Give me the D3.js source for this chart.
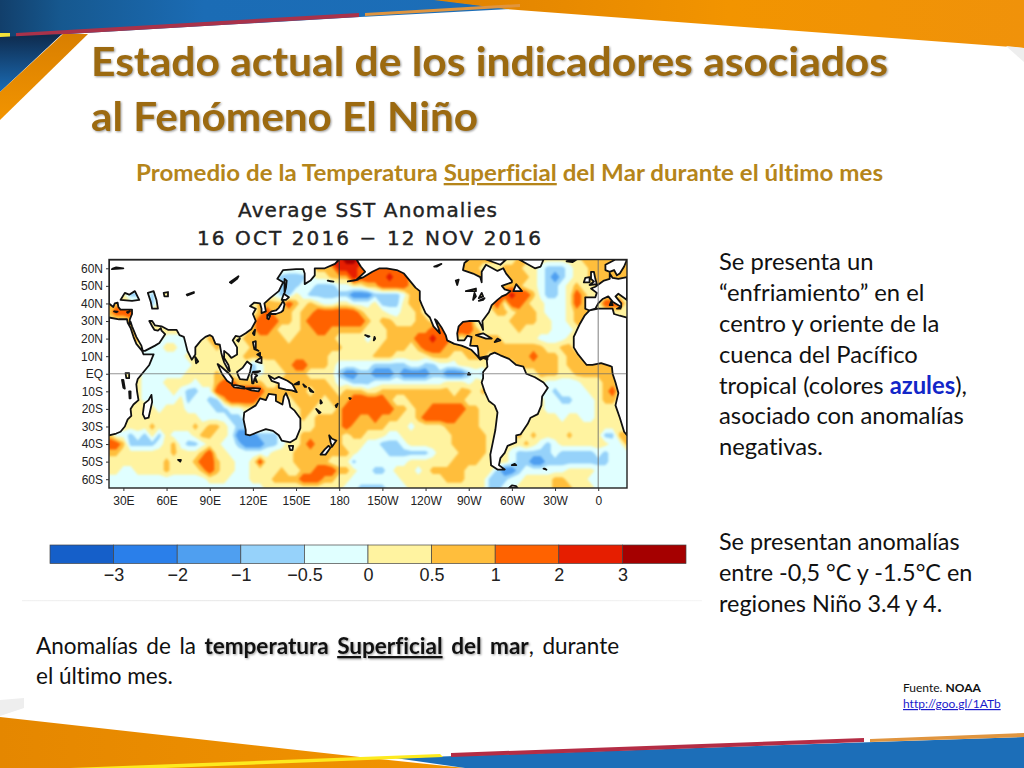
<!DOCTYPE html>
<html>
<head>
<meta charset="utf-8">
<script src="https://cdn.jsdelivr.net/npm/d3@7"></script>
<style>
  html, body { margin: 0; padding: 0; background: #fff; }
  svg { display: block; }
  text { font-variant-ligatures: none; }
</style>
</head>
<body>
<div id="slide"></div>
<script>
// anomaly bands of the colour bar
const bandEdges = [-3, -2, -1, -0.5, 0, 0.5, 1, 2, 3];
const bandColors = ["#155fc9", "#2a7fea", "#4f9ff0", "#96d2fa", "#e0ffff", "#fff3a0", "#ffbe3c", "#ff6200", "#e61e00", "#a50000"];
const legendLabels = ["\u22123", "\u22122", "\u22121", "\u22120.5", "0", "0.5", "1", "2", "3"];

// axis ticks of the map
const lonTicks = [30, 60, 90, 120, 150, 180, 210, 240, 270, 300, 330, 360];
const lonLabels = ["30E", "60E", "90E", "120E", "150E", "180", "150W", "120W", "90W", "60W", "30W", "0"];
const latTicks = [60, 50, 40, 30, 20, 10, 0, -10, -20, -30, -40, -50, -60];
const latLabels = ["60N", "50N", "40N", "30N", "20N", "10N", "EQ", "10S", "20S", "30S", "40S", "50S", "60S"];

// SST anomaly: one row per 5 deg of latitude (65N to 65S), one value per 5 deg of longitude (20E eastward to 380)
const sstLats = [65, 60, 55, 50, 45, 40, 35, 30, 25, 20, 15, 10, 5, 0, -5, -10, -15, -20, -25, -30, -35, -40, -45, -50, -55, -60, -65];
const sstRows = [
[.2,.2,.2,.2,.2,.2,.2,.2,.2,.2, .2,.2,.2,.2,.2,.2,.2,.2,.2,.2, .2,.2,.2,.2,.2,.2,.2,.2,.7,.7, .7,2.5,2.5,3.5,3.5,2.5,1.5,1.5,1.5,1.5, .7,.7,.7,.7,.7,.7,.7,.7,.7,.7, .7,.7,.7,.7,.7,.2,.2,.7,.7,.7, .2,.2,.2,.2,.2,.2,.7,.7,.7,.7, .7,.7,.7],
[.2,.2,.2,.2,.2,.2,.2,.2,.2,.2, .2,.2,.2,.2,.2,.2,.2,.2,.2,.2, .2,.2,.2,.2,.2,-.2,-.2,.2,.2,.7, .7,.7,2.5,2.5,2.5,1.5,1.5,1.5,1.5,1.5, 1.5,.7,.7,.7,.7,.7,.7,.7,.7,.7, .7,.7,.2,.2,.2,.7,.7,.7,.2,.2, -.2,-.7,-.7,-.7,-.2,.2,.2,.7,.7,.7, .7,.7,.7],
[.2,.2,.2,.2,.2,.2,.2,.2,.2,.2, .2,.2,.2,.2,.2,.2,.2,.2,.2,.2, .2,.2,.2,-.2,-.7,-.7,-.7,-.7,-.2,.2, .2,.7,.7,.7,2.5,1.5,1.5,1.5,1.5,2.5, 1.5,1.5,.7,.7,.7,.7,.7,.7,.7,.7, .7,.7,.7,.7,.7,.7,.7,.7,.7,.2, -.2,-.7,-1.5,-.7,-.2,.2,.2,.7,.7,.7, .7,.7,.7],
[.2,.2,.2,.2,.2,.2,.2,.2,.2,.2, .2,.2,.2,.2,.2,.2,.2,.2,.2,.2, .2,.2,.2,.2,-.7,-.7,-.7,-.2,-.2,-.7, -.7,-.7,-.2,-.2,.2,.2,.7,.7,1.5,1.5, 1.5,1.5,.7,.7,.7,.7,.7,.7,.7,.7, .7,.7,.7,.7,.7,.7,.7,.7,.2,.2, -.2,-.7,-.7,-.2,.2,.7,.2,.2,.7,.2, .2,.2,.2],
[.2,.2,.2,-.7,-.7,.2,-.7,.2,.2,.2, .2,.2,.2,.2,.2,.2,.2,.2,.2,.2, .2,.2,.2,-.2,-.7,-.7,.2,-.2,-.7,-.7, -.7,-.7,-.7,-.7,-1.5,-1.5,-1.5,-.7,-.7,-.7, -.7,-.2,.7,.7,.2,.2,.2,.2,.2,.2, .2,.2,.2,.7,1.5,1.5,2.5,1.5,1.5,.7, -.2,-.7,-.7,-.2,.2,1.5,.7,.2,.2,.2, .2,.2,.2],
[.7,.7,.7,.2,.2,.2,-.7,.2,.2,.2, .2,.2,.2,.2,.2,.2,.2,.2,.2,.2, .2,.7,.7,.7,.7,1.5,.7,.2,.7,.2, -.2,-.2,.2,.2,-.2,-.2,-.2,.2,-.7,-.7, -.7,.2,.7,.7,.2,.2,.2,.2,.2,.2, .2,.2,.2,.7,1.5,.2,1.5,1.5,.7,.2, .2,-.2,-.2,-.2,.2,1.5,.7,.2,.2,1.5, 1.5,1.5,.2],
[.7,1.5,1.5,1.5,.2,.2,.2,.2,.2,.2, .2,.2,.2,.2,.2,.2,.2,.2,.2,.2, .2,.7,1.5,.7,.7,.7,.2,.7,.7,1.5, 1.5,1.5,1.5,1.5,1.5,.7,.2,.2,.2,-.2, -.2,.2,.2,.7,.2,.2,.2,.2,.2,.2, .2,.2,.2,.2,.7,.7,.2,.7,.7,.7, .2,-.2,-.2,-.2,.2,.7,.7,.7,.2,.2, .2,.2,.2],
[.2,.2,.2,.7,.2,.2,.2,.2,.2,.2, .2,.2,.2,.2,.2,.2,.2,.2,.2,.2, .7,1.5,1.5,1.5,.7,.7,.2,.7,1.5,1.5, 1.5,1.5,1.5,1.5,1.5,1.5,.7,.2,.7,.7, .2,.2,.2,.7,.7,.2,.2,.2,1.5,1.5, 1.5,.2,.2,.2,.2,.2,.7,.7,.7,.7, .2,.2,-.2,-.2,.2,.7,.7,.2,.2,.2, .2,.2,.2],
[.2,.2,.2,.7,.2,.7,.2,.2,.2,.2, .2,.2,.2,.2,.2,.2,.2,.2,.2,.2, .7,1.5,1.5,.7,.2,.2,.2,.7,.7,1.5, 1.5,.7,.7,.7,.7,.7,.2,.2,.2,.7, .7,.7,.7,.7,.7,1.5,1.5,.7,1.5,1.5, 1.5,.7,.2,.2,.2,.2,.2,.7,.2,.2, .2,.2,-.2,-.2,-.2,.2,.7,.2,.2,.2, .2,.2,.2],
[.2,.2,.2,.7,.7,.2,.2,.2,-.2,-.2, -.2,-.2,.2,.2,.7,.7,.2,.2,.2,.7, .7,.7,.7,.7,.7,.2,.7,.7,.7,.7, .7,.7,.2,.2,.2,.2,-.2,.2,.2,.7, .7,.7,.7,1.5,1.5,2.5,1.5,1.5,.7,.2, .7,.7,.7,.7,.7,.2,.2,.2,.2,.2, -.2,-.2,-.2,-.2,.2,.7,.2,.2,.2,.2, .2,.2,.2],
[.2,.2,.2,.2,.2,-.2,-.2,-.2,.2,.2, -.2,-.2,.2,.2,.2,.7,.2,.2,.2,.2, .7,.7,.7,.7,.7,.7,.7,.7,.7,.7, .7,.7,.7,.2,.2,.2,.2,.2,.7,.7, .7,.7,.2,.7,1.5,1.5,1.5,.7,.7,.7, .7,.7,.7,.7,.7,.7,.7,.7,.7,.7, .7,.2,.2,.7,.7,.2,.2,.2,.2,.2, .2,.2,.2],
[.2,.2,.2,.2,.2,-.2,-.2,-.2,-.2,-.2, -.2,.2,.2,.2,.2,.2,.2,.2,.2,.7, .7,.7,.7,.7,.7,.7,.7,.7,.7,.7, .7,.2,.2,.2,.2,.2,.2,.7,.7,.7, .2,.2,.2,.2,.2,.7,.7,.7,.2,.2, .7,.7,.7,.2,.7,.7,.7,.7,.7,1.5, .7,.7,.7,.2,.7,.7,.2,.2,.2,.2, .2,.2,.2],
[.2,.2,.2,.2,.2,-.2,-.2,-.2,-.2,-.2, -.2,-.2,.2,.2,.2,.2,.2,.2,.2,.2, -.7,-.2,.2,.2,.7,.7,1.5,1.5,.7,.7, .7,.2,-.2,-.2,-.2,-.2,-.2,-.7,-.7,-.7, -.7,-.7,-.2,-.2,-.7,-.7,-.2,-.2,-.2,.2, .2,.2,.2,.2,.2,.2,.2,.7,.7,.7, .7,.7,.7,.2,.7,.7,.7,.7,.7,.7, .7,.7,.2],
[.2,.2,.2,.2,.2,-.2,-.2,-.2,-.2,-.2, -.2,.2,.2,.2,.2,.7,.2,.2,.2,.2, -.7,-.2,.2,.2,.2,.7,.7,.7,.2,.2, .2,.2,-.7,-1.5,-1.5,-.7,-.7,-1.5,-1.5,-1.5, -.7,-1.5,-1.5,-1.5,-1.5,-.7,-.7,-1.5,-1.5,-1.5, -.7,-.2,-.7,.2,.2,.2,.2,.2,.2,.2, .7,.7,.7,.2,.2,.7,.7,.7,.7,.7, .7,.7,.2],
[.2,.2,.2,.2,.2,-.2,-.2,-.2,.2,.2, .2,.2,-.2,.2,.2,.7,1.5,1.5,.7,.7, .7,.7,.2,.2,.7,.7,.7,.7,.7,.7, .7,.2,-.2,-.2,-.7,-.7,-.7,-.2,-.2,-.2, -.2,-.2,-.2,-.2,-.2,-.2,-.2,.2,.2,.2, -.2,.2,.2,.2,.2,.2,.2,.2,.2,.2, .2,-.2,-.2,-.2,-.2,-.2,.2,.2,.2,.7, .7,.2,.2],
[.2,.2,.2,.2,.2,-.2,-.2,-.2,-.2,.2, -.2,-.7,-.7,-.2,-.2,1.5,1.5,1.5,1.5,1.5, 1.5,1.5,.7,.7,.7,.7,.7,.7,.2,.7, .7,.7,.2,.7,.7,.7,.2,.2,.7,.7, .7,.7,.7,.7,.7,.7,.7,.7,.2,.7, .7,.2,.7,.2,.2,.2,.2,.2,.2,.2, -.2,-.2,-.7,-.2,-.2,-.2,-.2,.2,.2,.7, 1.5,.2,.2],
[.2,.2,.2,.2,.2,-.2,-.2,-.2,-.2,-.2, .2,-.7,-.2,-.2,-.7,-.7,.7,1.5,1.5,1.5, 1.5,.7,.7,.7,.7,.2,.7,.7,.7,.7, .2,.7,.7,.7,1.5,1.5,1.5,1.5,1.5,.7, .2,.2,.7,.7,.7,.7,.7,.7,.7,.7, .2,.2,.2,.2,.2,.2,.2,.2,.2,.2, .2,-.2,-.2,-.7,-.7,-.2,-.2,-.2,.2,.7, .7,.2,.2],
[.2,.2,.2,.2,.2,.7,.2,-.2,.2,.2, .2,-.2,-.2,-.2,-.2,-.7,-.7,-.2,-.2,.2, .2,.2,.2,.2,.2,.2,.2,.7,.7,.2, .2,.2,.7,1.5,1.5,1.5,1.5,1.5,1.5,1.5, .7,.7,.2,.7,.7,1.5,1.5,1.5,1.5,1.5, .7,.7,.2,.2,.2,.2,.2,.2,.2,.2, .2,-.2,-.2,-.2,-.2,-.2,-.2,-.2,.2,.2, .2,.2,.2],
[.2,.2,.2,.2,.2,.2,.2,.2,.2,.2, .2,.2,.2,-.2,-.2,-.2,-.2,-.7,-.7,-.2, .2,.2,.2,.2,.2,.2,.2,.7,.2,.7, .7,.7,.7,1.5,1.5,.7,.7,1.5,.7,.7, .7,.2,.2,.7,1.5,1.5,1.5,1.5,1.5,.7, .7,.7,.2,.2,.2,.2,.2,.2,.2,.2, .2,.2,.2,-.2,.2,.2,-.2,-.2,.2,.2, .2,.2,.2],
[.2,.2,.2,.2,.2,.2,.7,.2,.2,.2, .2,.2,.7,.2,.7,.7,.2,-.2,-.7,-.7, .2,.2,.2,.2,.2,.2,.2,.2,.2,.7, .7,.7,.7,1.5,.7,.7,.7,.7,.7,.2, .2,.2,-.2,.2,.2,.2,.2,.7,.7,.7, .7,.7,.2,.2,.2,.2,.2,.2,.2,.2, .2,.2,.2,.2,.2,.2,.2,.2,.2,.2, .2,.2,.2],
[.7,-.2,-.2,-.7,-.2,-.7,.2,-.7,.2,-.2, -.2,-.2,.2,.7,.7,.2,.2,-.2,-1.5,-1.5, -1.5,-.7,-.7,-.7,-.2,.2,.2,.7,.7,.7, .7,.7,.7,.2,.7,.7,.2,.2,.2,-.2, -.2,.2,.2,.2,.2,.2,.2,.2,.7,.7, .7,.7,.7,.2,.2,.2,.2,.7,.2,.7, .2,.2,.2,.2,.7,.2,.2,.2,.2,-.7, -.7,.7,.7],
[1.5,1.5,.7,-.7,-.7,-.7,-.7,-.2,.2,.7, -.2,-.7,-.7,-.2,.2,.2,-.2,-.2,-.7,-1.5, -1.5,-1.5,-.7,-.7,-.2,.2,.2,.7,1.5,.7, .7,.7,.7,.2,.2,.2,-.2,-.2,-.7,-.7, -.7,-.2,.2,.2,.2,.2,.2,.2,.7,.7, .7,.7,.7,.2,.2,.2,.2,.2,.7,.2, -.2,-.7,-.2,.2,.2,.2,.2,.2,.2,.2, -.2,-.2,.7],
[.7,.7,.2,.2,.2,.2,.2,.2,.2,.7, .2,.2,.2,.7,1.5,.2,.2,-.2,-.2,-.2, -.2,-.2,-.2,.2,.2,.2,.7,.7,.7,.7, .7,.7,.7,.7,.2,-.2,-.2,-.2,-.2,-.7, -.7,-.7,-.7,-.7,-.7,-.2,.2,.2,.2,.7, .7,.7,.7,.2,.2,.2,-.2,-.7,-.7,-.7, -.7,-.7,-.2,-.7,-.7,-.7,-.7,-.7,-.2,-.7, -.2,-.2,-.2],
[.2,.2,.2,.2,.2,.2,.2,.2,.7,.2, .2,.2,.7,1.5,1.5,.7,.2,.2,-.2,-.2, .2,1.5,.2,.2,.2,.2,.7,.7,.7,.7, .7,.2,.2,.2,-.7,-.2,-.2,-.2,-.2,-.2, -.2,-.2,.2,.2,.2,.2,.2,.2,.7,.7, .7,.7,.2,.2,.2,.2,-.2,-.7,-.7,-1.5, -1.5,-.7,-.7,-.7,-.7,-.7,-.7,-.7,-.7,-.7, -.2,-.2,-.2],
[.2,.2,-.2,-.2,.2,.2,.2,.2,.7,.2, .2,.2,.2,.7,1.5,.7,.2,.2,-.2,-.2, .2,.2,.2,.2,.7,.2,.2,.7,.7,1.5, 1.5,1.5,.7,.7,.2,-.2,-.2,-.7,-.7,-.2, .2,.2,.2,-.2,.2,.7,.7,.7,.7,.7, .2,.2,.2,.2,-.7,-1.5,-1.5,-.7,-.2,-.2, -.2,-.2,-.2,-.2,.2,.2,.2,.2,-.2,-.2, -.2,-.2,-.2],
[-.2,-.2,-.2,-.2,-.2,-.2,-.2,-.2,-.2,-.2, -.2,-.2,-.2,-.2,.2,.2,.2,-.2,-.2,-.2, .2,.2,.2,.7,.7,.7,.7,1.5,1.5,1.5, .7,.7,.2,.2,-.2,-.2,-.2,-.2,-.2,-.2, -.2,.2,.2,.2,.2,.2,.2,.7,.7,.7, .2,.2,.2,-.7,-.7,-.7,-.2,-.2,.2,.2, .2,.2,.7,.7,.2,.2,.2,-.2,-.2,-.2, -.2,-.2,-.2],
[-.2,-.2,-.2,-.2,-.2,-.2,-.2,-.2,-.2,-.2, -.2,-.2,-.2,-.2,-.2,-.2,-.2,-.2,-.2,-.2, -.2,-.2,.2,.2,.2,.2,.2,.2,.2,.2, .2,.2,.2,-.2,-.2,-.7,-.7,-.7,-.7,-.2, -.2,-.2,.2,.2,.2,.2,.2,.2,.2,.2, .2,.2,.2,-.7,-.7,-.2,-.2,.2,.2,.2, .2,.2,.7,.7,.7,.2,.2,.2,-.2,-.2, -.2,-.2,-.2]
];

// coastlines, [lon, lat], longitudes run 20..380
const eurasia = [[20,65],[20,40],[23,38],[24,40],[26,40.5],[26.5,38],[28,36.5],[31,36.5],[36,36.5],[36,34],[35,32],[34.5,31],[34.3,28],[35,29.5],[36,27],[39,21],[42.5,16],[43.5,13],[45,13],[52,16],[55,17.5],[59,22.5],[56.5,24.5],[56,26],[54,24.5],[51.5,25],[50,27],[48,30],[50,30],[52,27.5],[56.5,27],[61,25],[67,25],[69,22],[72,21],[73,18],[74.5,13],[77.5,8],[80,11],[80,15],[84,19],[87,21],[90,22],[92,21],[94,17],[97,16.5],[98,12],[99,9],[100,6.5],[103,2],[104,1.5],[103,5],[100,9],[100,13],[103,11],[105,9],[109,11],[109,15],[106,19],[108,21.5],[111,21],[115,23],[119,25.5],[122,30],[120,34],[122,37],[118,38.5],[121,40.5],[125,40],[126,37],[126,34.5],[129,35.5],[128,40],[132,43],[138,47],[141,52],[137,54],[141,59],[150,59.5],[155,59.5],[156,57],[156,51],[160,53],[163,56],[163,60],[170,60],[177,62.5],[180,65]];
const africaEast = [[20,-35],[25,-34],[28,-33],[31,-30],[33,-26],[35.5,-24],[35,-20],[37,-17.5],[40.5,-15],[39.5,-10],[39,-6],[40,-3],[43,0],[48,5],[51,11],[44,11],[43,13],[39,17],[37,21],[35,26],[33,29],[32.5,31],[27,31],[20,32]];
const africaWest = [[380,32],[375,33],[371,34],[370,37],[360,37],[354,36],[350.5,33],[347,28],[343,21],[343,15],[346,11],[350,7],[352,5],[356,5],[362,6],[368,4.5],[369.5,4],[370,0],[372,-5],[374,-11],[372,-18],[375,-25],[378,-33],[380,-35]];
const europe = [[380,55],[374,54],[370,54.5],[368,57],[368,54],[364,53],[358,49.5],[355,48.5],[359,46],[358,43.5],[351,43.5],[351,37],[354,36],[358,37],[360,40],[363,42.5],[367,44],[370,41],[376,38],[376,40],[372,44],[374,45.5],[380,42]];
const scandinavia = [[372,65],[365,62],[365,59],[368,58],[371,59],[373,56],[375,57],[378,61],[380,65]];
const northAmerica = [[192,65],[195,61],[198,58],[192,53.5],[197,55],[203,58],[208,60],[213,60],[220,59],[225,57],[229,53],[233,49],[236,47],[236,42],[237.5,39],[240,34.5],[243,32],[245.5,27],[250,23],[249,26],[246.5,31],[248,30],[251,26.5],[254,22],[255,19],[260,17],[265,16],[268,15],[272,13.5],[276,10],[278,8],[280,9],[283,8],[283,10],[277,9],[276.5,14],[276,15.8],[271,16],[272,21],[269,21.5],[267,19],[262.5,19],[262,23],[263,27],[266,29.5],[270,30],[277,30],[279,27],[280,25],[279.5,30],[284,35],[286,39],[290,42],[293,44],[296,45],[299,47],[295,48],[293,50],[300,52],[300,53],[296,57],[294,60],[290,58.5],[282,62],[279,58],[279,52],[278,55],[273,57],[266,59],[267,63],[270,65]];
const southAmerica = [[282,8.5],[285,11],[288,12],[292,10.5],[298,8.5],[303,5],[308,4],[310,0],[316,-2],[322,-5],[325,-8],[321,-13],[320.5,-18],[318,-23],[313,-25],[311,-28.5],[306,-34.5],[303,-35],[303,-39],[297,-41],[295,-45],[292,-48],[291,-52],[295,-54.5],[290,-54.5],[285.5,-52],[285,-46],[286.5,-40],[288.5,-32],[290,-22],[288,-18],[284,-15.5],[281,-10],[279,-5],[280,-2.5],[280,1],[283,4],[282.5,8]];
const australia = [[114,-22],[113.5,-26],[115,-32],[115,-34.5],[118,-35],[124,-33],[129,-31.5],[134,-32.5],[138,-35],[140,-38],[146,-39],[150,-37],[153,-31],[153,-25.5],[149,-21],[146,-19],[145,-15],[143,-11],[141.5,-13],[140.5,-17.5],[136,-15.5],[136,-12],[131,-11.5],[129,-15],[125,-14],[122,-18],[117,-20.5]];
const islands = [
  [[145,-41],[148,-41],[147.5,-43.5],[146,-43.5]],
  [[173,-35],[175,-37],[178,-38],[175,-41.5],[174,-39]],
  [[172.5,-41],[174,-42],[170.5,-46],[167,-46],[170,-43]],
  [[49.5,-12],[50,-16],[47.5,-25],[45,-25.5],[43.5,-23],[44.5,-17],[47.5,-15]],
  [[80,9.5],[82,7],[80.5,6]],
  [[131,34],[133,35.5],[136,36],[138,37.5],[140,40],[141,41.5],[142,39.5],[141,36],[139.5,35],[136,34],[133,34]],
  [[130,33.5],[132,33],[131,31],[130,31.5]],
  [[140,42],[141.5,45.5],[145,43.5],[143,42]],
  [[142,46],[142,54],[143.5,53],[143,49]],
  [[120,23],[121.5,25],[121,22]],
  [[109,19],[111,20],[110,18.3]],
  [[120,18],[122,18.5],[122,14],[124,13],[121,14]],
  [[122,7],[126,9.5],[126,6],[124,6.5]],
  [[123,11],[125,12],[125,10]],
  [[109,1],[113,3.5],[116,7],[119,5],[118,1],[116,-3.5],[111,-3],[109.5,-0.5]],
  [[95.5,5.5],[98,4],[103.5,0],[106,-3],[105.5,-6],[102,-4],[98.5,0]],
  [[105.5,-6.5],[108,-6.5],[114,-7.5],[114,-8.5],[107,-7.8]],
  [[115,-8.3],[120,-8.2],[125,-8.5],[124,-10],[119,-9.5]],
  [[119.5,-5.5],[119,-1],[120,1],[125,1.5],[121,0],[123,-1],[121.5,-2],[122.8,-4.8],[121,-3],[120.4,-5.5]],
  [[131,-1],[135,-3],[138,-1.8],[144,-4],[147.5,-6],[150.5,-10.5],[147,-9.5],[143,-9],[138,-8],[138,-5.5],[133,-4]],
  [[149,-6],[152,-4.5],[152,-6]],
  [[155,-6],[157,-7.5],[156,-7.5]],
  [[159,-8],[162,-10.5],[160,-10]],
  [[167,-15],[168,-16.5],[167,-17]],
  [[164,-20],[167,-22],[166,-22.5]],
  [[177.5,-18],[179,-17],[178,-19]],
  [[187,-13.8],[188,-14],[187.5,-14.4]],
  [[204,19],[205,20],[204.5,21]],
  [[198,22],[200,21],[201,21.3]],
  [[186,52.5],[190,53],[193,53.5]],
  [[172,53],[174,52.6],[176,52.4]],
  [[270,.5],[271,-.5],[269.5,-.5]],
  [[275,22],[280,23],[286,20],[282,20]],
  [[288,18],[290,20],[292,19]],
  [[301,47],[307,47],[303,51]],
  [[282,65],[292,62],[296,65]],
  [[305,65],[316,60],[320,61],[322,65]],
  [[338,64],[342,63.5],[345,65]],
  [[354,50.5],[359,51],[358,54],[357,58],[355,58],[355,54],[357,52.5]],
  [[350,52],[354,52],[354,55],[351,54.5]],
  [[368,39],[370,39],[369,41]],
  [[373,37],[375.5,37],[375.5,38]],
  [[32.5,35],[34.5,35.5],[33,34.6]],
  [[23.5,35.5],[26,35.3],[25,35]],
  [[300,-52],[302,-51.3],[303,-52]],
  [[322,-54],[323,-54],[324,-54.6]],
  [[298,-65],[300,-63.5],[303,-64],[304,-65]],
  [[68,-49],[70,-49],[69.5,-50]]
];
// inland water: left open so the anomaly colours show through
const inlandSeas = [
  [[28,42],[31,46],[34,45],[38,47],[41,42],[36,41.5]],
  [[47,46],[51,47],[53,42],[54,37],[50,37],[49,41]],
  [[58,46],[61,46.5],[61,44],[58.5,44]],
  [[74,45],[79,46.5],[79,46],[74.5,44.5]],
  [[104,52],[110,55.5],[109,54],[105,51.5]],
  [[22,59.5],[30,60],[25,60.5],[23,60]],
  [[31.5,0.3],[34,0.3],[34,-2.5],[32,-2.5]],
  [[29,-3.5],[30,-3.5],[31,-8.5],[30,-8]],
  [[34,-10],[35,-10],[35,-14],[34.3,-14]],
  [[246,61],[251,62.5],[248,61]],
  [[262,50.5],[263,53.5],[261,53]],
  [[268,47],[275,48.5],[275,47]],
  [[273,42],[274,46],[275,44]],
  [[277,43],[279,46],[280,44]],
  [[277,41.5],[281,43],[280,42]]
];

const width = 1024, height = 768;

const svg = d3.select("#slide").append("svg")
  .attr("width", width)
  .attr("height", height);

const defs = svg.append("defs");

function gradient(id, x2, y2, stops) {
  const g = defs.append("linearGradient").attr("id", id)
    .attr("x1", 0).attr("y1", 0).attr("x2", x2).attr("y2", y2);
  stops.forEach(s => g.append("stop").attr("offset", s[0]).attr("stop-color", s[1]));
}
gradient("blueTop", 1, 0, [[0, "#123f6b"], [0.12, "#16588f"], [0.4, "#1b6cb5"], [1, "#1c6eb8"]]);
gradient("orangeTop", 1, 0, [[0, "#e08200"], [0.5, "#f29400"], [1, "#f0920a"]]);
gradient("orangeBottom", 1, 0, [[0, "#e58700"], [1, "#f29400"]]);
gradient("darkCorner", 0, 1, [[0, "#0e2a4c"], [1, "#1b6cb5"]]);
gradient("orangeSlant", 0, 1, [[0, "#d97f00"], [1, "#f29400"]]);

function blurFilter(id, dev) {
  defs.append("filter").attr("id", id)
    .attr("color-interpolation-filters", "sRGB")
    .append("feGaussianBlur").attr("stdDeviation", dev);
}
blurFilter("fieldBlur", 0.9);
blurFilter("coastBlur", 0.3);

// slide decoration
function poly(points, fill) {
  svg.append("polygon")
    .attr("points", points.map(p => p.join(",")).join(" "))
    .attr("fill", fill);
}
poly([[0, 0], [440, 0], [510, 9], [360, 17], [16, 37], [0, 37]], "url(#blueTop)");
poly([[434, 0], [1024, 0], [1024, 48], [506, 9]], "url(#orangeTop)");
poly([[16, 33], [359, 13], [359, 17], [16, 37]], "#a9324a");
poly([[365, 13], [520, 4], [520, 7], [365, 16]], "#e0953f");
poly([[0, 33], [10, 33], [10, 37], [0, 37]], "#f3e23a");
poly([[0, 37], [62, 34], [0, 92]], "url(#darkCorner)");
poly([[63, 34], [88, 34], [0, 120], [0, 92]], "url(#orangeSlant)");
poly([[1006, 46], [1024, 48], [1024, 62]], "#eeeeee");
poly([[0, 717], [360, 757], [465, 768], [0, 768]], "url(#orangeBottom)");
poly([[395, 758], [1024, 737], [1024, 768], [465, 768]], "#1c6eb8");
poly([[70, 768], [440, 754], [443, 757], [165, 768]], "#fdea1e");
poly([[451, 753], [864, 738], [864, 742], [451, 757]], "#b42d45");
poly([[870, 739], [1024, 733], [1024, 737], [870, 742]], "#e0953f");
poly([[0, 700], [24, 698], [24, 708], [0, 716]], "#eeeeee");

// map
const lonScale = d3.scaleLinear().domain([20, 380]).range([109, 627]);
const latScale = d3.scaleLinear().domain([65, -65]).range([259.5, 488]);
const colorScale = d3.scaleThreshold().domain(bandEdges).range(bandColors);

defs.append("clipPath").attr("id", "mapClip")
  .append("rect")
  .attr("x", lonScale(20)).attr("y", latScale(65))
  .attr("width", lonScale(380) - lonScale(20))
  .attr("height", latScale(-65) - latScale(65));

const mapBody = svg.append("g").attr("clip-path", "url(#mapClip)");

const gridW = sstRows[0].length, gridH = sstLats.length;
const contours = d3.contours()
  .size([gridW, gridH])
  .thresholds(bandEdges)(sstRows.flat());

const gridPath = d3.geoPath(d3.geoTransform({
  point(x, y) {
    this.stream.point(lonScale(20 + 5 * (x - 0.5)), latScale(65 - 5 * (y - 0.5)));
  }
}));

mapBody.append("g")
  .attr("filter", "url(#fieldBlur)")
  .selectAll("path")
  .data(contours)
  .join("path")
  .attr("d", gridPath)
  .attr("fill", d => colorScale(d.value));

const coastLine = d3.line().x(d => lonScale(d[0])).y(d => latScale(d[1]));
const landShapes = [eurasia, africaEast, africaWest, europe, scandinavia, northAmerica, southAmerica, australia, ...islands, ...inlandSeas];

mapBody.append("path")
  .attr("d", landShapes.map(s => coastLine(s) + "Z").join(""))
  .attr("fill", "#fff")
  .attr("fill-rule", "evenodd")
  .attr("stroke", "#111")
  .attr("stroke-width", 1.8)
  .attr("stroke-linejoin", "round")
  .attr("filter", "url(#coastBlur)");

// reference lines
mapBody.append("line")
  .attr("x1", lonScale(180)).attr("x2", lonScale(180))
  .attr("y1", latScale(65)).attr("y2", latScale(-65))
  .attr("stroke", "#333").attr("stroke-width", 1);
mapBody.append("line")
  .attr("x1", lonScale(360)).attr("x2", lonScale(360))
  .attr("y1", latScale(65)).attr("y2", latScale(-65))
  .attr("stroke", "#666").attr("stroke-opacity", 0.7).attr("stroke-width", 1.2);
mapBody.append("line")
  .attr("x1", lonScale(20)).attr("x2", lonScale(380))
  .attr("y1", latScale(0)).attr("y2", latScale(0))
  .attr("stroke", "#666").attr("stroke-opacity", 0.7).attr("stroke-width", 1.2);

svg.append("rect")
  .attr("x", lonScale(20)).attr("y", latScale(65))
  .attr("width", lonScale(380) - lonScale(20))
  .attr("height", latScale(-65) - latScale(65))
  .attr("fill", "none")
  .attr("stroke", "#222")
  .attr("stroke-width", 1.4);

const xAxis = svg.append("g")
  .attr("transform", `translate(0,${latScale(-65)})`)
  .call(d3.axisBottom(lonScale).tickValues(lonTicks)
    .tickFormat((d, i) => lonLabels[i]).tickSize(3).tickPadding(5));
const yAxis = svg.append("g")
  .attr("transform", `translate(${lonScale(20)},0)`)
  .call(d3.axisLeft(latScale).tickValues(latTicks)
    .tickFormat((d, i) => latLabels[i]).tickSize(3).tickPadding(3));
[xAxis, yAxis].forEach(a => {
  a.select(".domain").remove();
  a.selectAll("line").attr("stroke", "#333");
  a.selectAll("text")
    .attr("font-family", "'Liberation Sans', sans-serif")
    .attr("font-size", 12)
    .attr("fill", "#222");
});

// map heading
function mapHeading(text, x, y, len) {
  svg.append("text")
    .attr("x", x).attr("y", y)
    .attr("textLength", len)
    .attr("lengthAdjust", "spacing")
    .attr("font-family", "'DejaVu Sans', sans-serif")
    .attr("font-size", 20)
    .attr("fill", "#222")
    .attr("stroke", "#222")
    .attr("stroke-width", 0.4)
    .text(text);
}
mapHeading("Average SST Anomalies", 238, 217, 259);
mapHeading("16 OCT 2016 \u2212 12 NOV 2016", 197, 245, 344);

// colour bar
const legendScale = d3.scaleLinear().domain([0, bandColors.length]).range([50, 686]);
const legend = svg.append("g");
legend.selectAll("rect")
  .data(bandColors)
  .join("rect")
  .attr("x", (d, i) => legendScale(i))
  .attr("y", 545)
  .attr("width", legendScale(1) - legendScale(0))
  .attr("height", 18.5)
  .attr("fill", d => d)
  .attr("stroke", "#444")
  .attr("stroke-width", 0.7);

const legendAxis = svg.append("g")
  .attr("transform", "translate(0,563)")
  .call(d3.axisBottom(legendScale)
    .tickValues(d3.range(1, bandColors.length))
    .tickFormat((d, i) => legendLabels[i]).tickSize(0).tickPadding(5));
legendAxis.select(".domain").remove();
legendAxis.selectAll("text")
  .attr("font-family", "'Liberation Sans', sans-serif")
  .attr("font-size", 18)
  .attr("fill", "#222");

// divider under the colour bar
gradient("dividerFade", 1, 0, [[0, "#f2f2f2"], [0.5, "#e6e6e6"], [1, "#f6f6f6"]]);
svg.append("rect").attr("x", 22).attr("y", 600).attr("width", 680).attr("height", 1.2).attr("fill", "url(#dividerFade)");

// slide text
const slideFont = "Lato, 'Open Sans', sans-serif";
const shadow = "drop-shadow(1.5px 1.5px 1px rgba(0,0,0,0.4))";

function textLine(parts, x, y, size, fill) {
  const t = svg.append("text")
    .attr("x", x).attr("y", y)
    .attr("font-family", slideFont)
    .attr("font-size", size)
    .attr("font-weight", 400)
    .attr("fill", fill || "#111");
  parts.forEach(part => {
    const p = typeof part === "string" ? { text: part } : part;
    const s = t.append("tspan").text(p.text);
    if (p.bold) s.attr("font-weight", 700);
    if (p.under) s.attr("text-decoration", "underline");
    if (p.fill) s.attr("fill", p.fill);
    if (p.glow) s.style("filter", shadow);
  });
  return t;
}

const titleColor = "#9c6a10";
textLine([{ text: "Estado actual de los indicadores asociados", bold: true }], 91, 76, 40, titleColor)
  .attr("textLength", 797).attr("lengthAdjust", "spacingAndGlyphs").style("filter", shadow);
textLine([{ text: "al Fen\u00f3meno El Ni\u00f1o", bold: true }], 91, 131, 40, titleColor)
  .attr("textLength", 387).attr("lengthAdjust", "spacingAndGlyphs").style("filter", shadow);

const subColor = "#b5851a";
textLine([
  { text: "Promedio de la Temperatura ", bold: true },
  { text: "Superficial", bold: true, under: true },
  { text: " del Mar durante el \u00faltimo mes", bold: true }
], 136, 181, 23, subColor).attr("textLength", 747).attr("lengthAdjust", "spacingAndGlyphs");

const sideLines = [
  ["Se presenta un"],
  ["\u201cenfriamiento\u201d en el"],
  ["centro y oriente de la"],
  ["cuenca del Pac\u00edfico"],
  ["tropical (colores ", { text: "azules", bold: true, fill: "#1226c8" }, "),"],
  ["asociado con anomal\u00edas"],
  ["negativas."]
];
const sideYs = [270, 301, 332, 363, 394, 424, 455];
sideLines.forEach((parts, i) => textLine(parts, 719, sideYs[i], 23.8));

const sideLines2 = ["Se presentan anomal\u00edas", "entre -0,5 \u00b0C y -1.5\u00b0C en", "regiones Ni\u00f1o 3.4 y 4."];
const sideYs2 = [550, 581, 612];
sideLines2.forEach((s, i) => textLine([s], 719, sideYs2[i], 23.4));

const note = textLine([
  "Anomal\u00edas de la ",
  { text: "temperatura", bold: true, glow: true },
  " ",
  { text: "Superficial", bold: true, under: true, glow: true },
  " ",
  { text: "del", bold: true, glow: true },
  " ",
  { text: "mar", bold: true, glow: true },
  ", durante"
], 36, 654, 22.5);
// justified line
const noteGap = (619 - 36 - note.node().getComputedTextLength()) / 7;
note.attr("word-spacing", noteGap);
textLine(["el \u00faltimo mes."], 36, 684, 22.5);

textLine(["Fuente. ", { text: "NOAA", bold: true }], 903, 692, 12);
textLine([{ text: "http://goo.gl/1ATb", under: true }], 903, 708, 12, "#1a1acc");
</script>
</body>
</html>
